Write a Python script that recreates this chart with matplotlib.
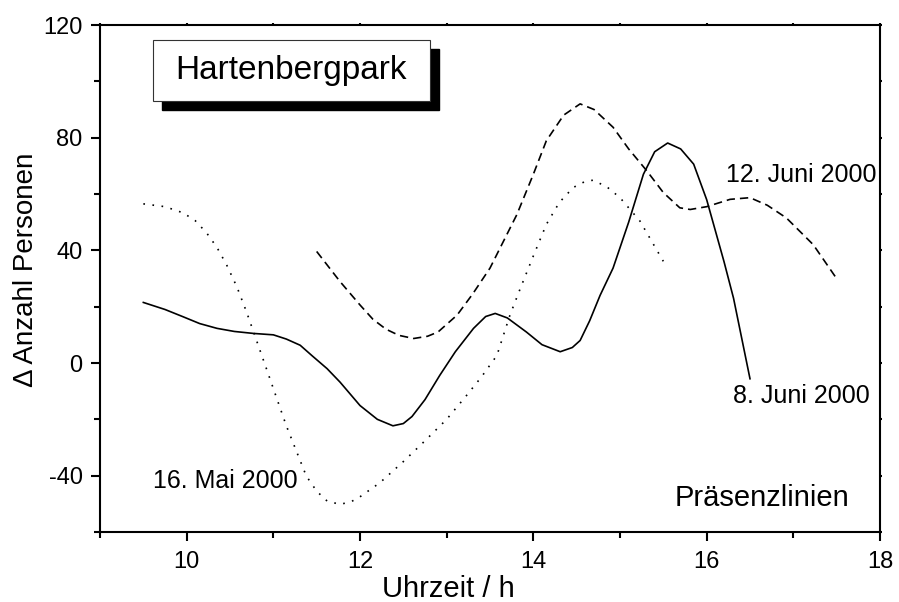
import matplotlib
matplotlib.use("Agg")
import matplotlib.pyplot as plt
from matplotlib.patches import Rectangle
from matplotlib.ticker import MultipleLocator

plt.rcParams['font.family'] = ['Liberation Sans', 'DejaVu Sans']
plt.rcParams['axes.unicode_minus'] = False

# --- Daten ---
t_8juni = [9.5, 9.75, 9.96, 10.15, 10.35, 10.55, 10.77, 11.0, 11.15, 11.31, 11.45,
           11.62, 11.77, 12.0, 12.2, 12.38, 12.5, 12.6, 12.75, 12.92, 13.1, 13.31,
           13.45, 13.56, 13.7, 13.92, 14.1, 14.31, 14.45, 14.54, 14.65, 14.77, 14.92,
           15.1, 15.27, 15.4, 15.55, 15.7, 15.85, 16.0, 16.08, 16.2, 16.31, 16.5]
v_8juni = [21.5, 19, 16.4, 14, 12.3, 11.2, 10.5, 10, 8.5, 6.3, 2.5,
           -2, -6.8, -15.1, -20, -22.3, -21.5, -19, -13, -4.4, 4, 12.3,
           16.5, 17.6, 16, 11, 6.5, 4, 5.5, 8, 15, 24, 33.7,
           50, 67, 75, 78.1, 76, 70.6, 58, 49.2, 36, 23, -5.6]

t_12juni = [11.5, 11.77, 12.0, 12.15, 12.3, 12.45, 12.62, 12.78, 12.9, 13.12, 13.3,
            13.5, 13.81, 14.0, 14.15, 14.35, 14.54, 14.7, 14.92, 15.1, 15.31, 15.5,
            15.69, 15.81, 16.0, 16.27, 16.5, 16.7, 16.92, 17.23, 17.51]
v_12juni = [39.6, 28.9, 20.6, 15.5, 12, 9.8, 8.7, 9.5, 11, 17, 24.5,
            33.7, 52.7, 67, 78.9, 88, 92, 90, 83.7, 76, 68.2, 60.5,
            55.1, 54.5, 55.5, 58.1, 58.7, 56, 51.5, 42, 29.5]

t_16mai = [9.5, 9.75, 9.96, 10.1, 10.23, 10.35, 10.46, 10.58, 10.69, 10.92, 11.15,
           11.38, 11.5, 11.62, 11.77, 11.9, 12.0, 12.23, 12.5, 12.73, 13.0, 13.23,
           13.4, 13.58, 13.73, 13.85, 14.0, 14.15, 14.3, 14.46, 14.6, 14.69, 14.85,
           15.0, 15.23, 15.5]
v_16mai = [56.5, 55.5, 53.3, 50.5, 46.2, 41, 34.9, 27, 18.2, -2, -22.3,
           -40.1, -45.5, -49, -50.2, -49.2, -47.5, -42.5, -35, -28.2, -20, -11.5,
           -5, 2.7, 17, 26.5, 38, 49.2, 57, 62.3, 64.5, 64.9, 62.5,
           58.7, 50.4, 36.1]

W, H = 899, 602


def fx(px):
    return px / W


def fy(py):
    return 1 - py / H


fig = plt.figure(figsize=(W / 100, H / 100), dpi=100)
ax = fig.add_axes([fx(100), fy(532), 780 / W, 507 / H])

lw = 1.2
ax.plot(t_8juni, v_8juni, color='black', lw=lw, linestyle='-')
ax.plot(t_12juni, v_12juni, color='black', lw=lw, linestyle=(0, (5, 3)))
ax.plot(t_16mai, v_16mai, color='black', lw=lw, linestyle=(0, (1, 4.5)))

ax.set_xlim(9, 18)
ax.set_ylim(-60, 120)
ax.xaxis.set_major_locator(MultipleLocator(2))
ax.xaxis.set_minor_locator(MultipleLocator(1))
ax.yaxis.set_major_locator(MultipleLocator(40))
ax.yaxis.set_minor_locator(MultipleLocator(20))

for s in ax.spines.values():
    s.set_linewidth(1.5)
ax.tick_params(which='major', direction='out', length=6.5, width=1.5, labelsize=17)
ax.tick_params(which='minor', direction='out', length=4, width=1.5)
ax.tick_params(axis='x', which='major', pad=7.5)
ax.tick_params(axis='y', which='major', pad=6)
ax.tick_params(which='both', top=True, right=True, labeltop=False, labelright=False)
# oben/rechts nur winzige Striche
for axis in (ax.xaxis, ax.yaxis):
    for t in axis.get_ticklines(minor=False)[1::2] + axis.get_ticklines(minor=True)[1::2]:
        t.set_markersize(1.5)

# Achsentitel
fig.text(fx(382), fy(597), 'Uhrzeit / h', fontsize=21, ha='left', va='baseline')
fig.text(fx(33), fy(387), '\u0394 Anzahl Personen', fontsize=20, rotation=90,
         rotation_mode='anchor', ha='left', va='baseline')

# Kurvenbeschriftungen
fig.text(fx(153), fy(488), '16. Mai 2000', fontsize=18, ha='left', va='baseline')
fig.text(fx(876), fy(182), '12. Juni 2000', fontsize=18, ha='right', va='baseline')
fig.text(fx(870), fy(403), '8. Juni 2000', fontsize=18, ha='right', va='baseline')
fig.text(fx(849), fy(506), 'Präsenzlinien', fontsize=21, ha='right', va='baseline')

# Titelkasten mit Schatten
bx0, bx1 = (153 - 100) / 780, (430 - 100) / 780
by0, by1 = (532 - 101) / 507, (532 - 40) / 507
dx, dy = 9 / 780, 9 / 507
ax.add_patch(Rectangle((bx0 + dx, by0 - dy), bx1 - bx0, by1 - by0, transform=ax.transAxes,
                       facecolor='black', edgecolor='black', zorder=5, clip_on=False))
ax.add_patch(Rectangle((bx0, by0), bx1 - bx0, by1 - by0, transform=ax.transAxes,
                       facecolor='white', edgecolor='#333333', lw=0.8, zorder=6, clip_on=False))
ax.text((bx0 + bx1) / 2, (by0 + by1) / 2, 'Hartenbergpark', transform=ax.transAxes,
        fontsize=24, ha='center', va='center', zorder=7)

fig.savefig('out.png', dpi=100)
